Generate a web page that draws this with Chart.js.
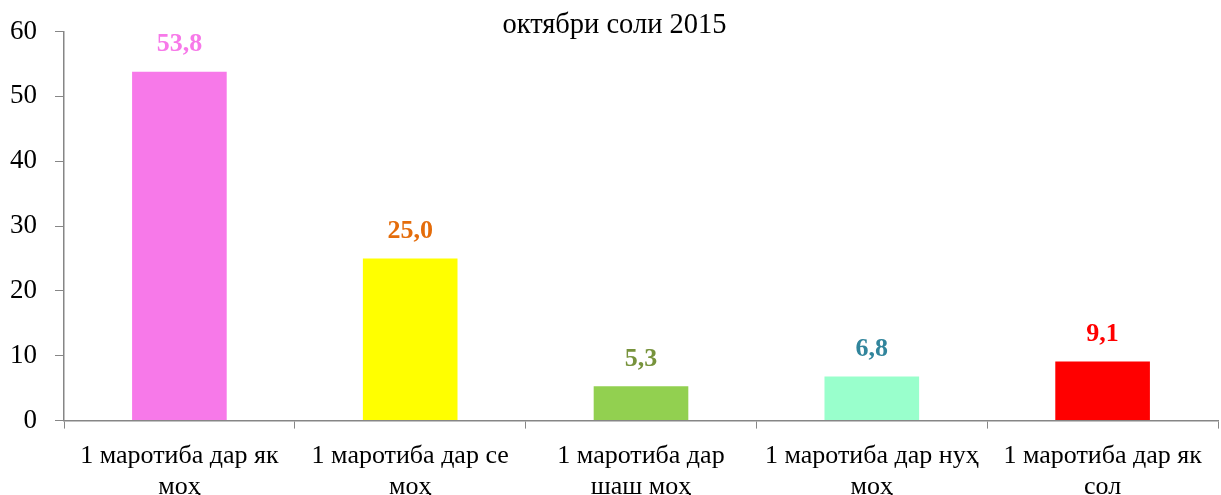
<!DOCTYPE html>
<html>
<head>
<meta charset="utf-8">
<script src="https://cdn.jsdelivr.net/npm/chart.js@4"></script>
<style>
    html, body { margin: 0; padding: 0; background: #fff; overflow: hidden; }
    #wrap { width: 1221px; height: 515px; position: relative; }
</style>
</head>
<body>
<div id="wrap"><canvas id="chart"></canvas></div>
<script>
// --- Datos ---
const titulo = 'октябри соли 2015';
const categorias = [
    ['1 маротиба дар як', 'моҳ'],
    ['1 маротиба дар се', 'моҳ'],
    ['1 маротиба дар', 'шаш моҳ'],
    ['1 маротиба дар нуҳ', 'моҳ'],
    ['1 маротиба дар як', 'сол']
];
const valores = [53.8, 25.0, 5.3, 6.8, 9.1];
const etiquetas = ['53,8', '25,0', '5,3', '6,8', '9,1'];
const coloresBarra = ['#F779E9', '#FFFF00', '#92D050', '#99FFCC', '#FF0000'];
const coloresEtiqueta = ['#F779E9', '#E46C0A', '#77933C', '#31859C', '#FF0000'];
const yTicks = [0, 10, 20, 30, 40, 50, 60];

const fuente = "'Liberation Serif', 'DejaVu Serif', serif";

// Plugin sencillo: etiquetas encima de las barras y título
const etiquetasPlugin = {
    id: 'etiquetas',
    afterDatasetsDraw(chart) {
        const ctx = chart.ctx;
        const meta = chart.getDatasetMeta(0);
        ctx.save();
        ctx.font = 'bold 26px ' + fuente;
        ctx.textAlign = 'center';
        ctx.textBaseline = 'middle';
        meta.data.forEach((bar, i) => {
            ctx.fillStyle = coloresEtiqueta[i];
            ctx.fillText(etiquetas[i], bar.x, bar.y - 27);
        });
        // título sobre el área del gráfico
        ctx.font = '28.5px ' + fuente;
        ctx.fillStyle = '#000';
        ctx.textBaseline = 'alphabetic';
        ctx.fillText(titulo, chart.width / 2 + 4, chart.chartArea.top + 1);
        ctx.restore();
    }
};

const ctx = document.getElementById('chart').getContext('2d');
new Chart(ctx, {
    type: 'bar',
    data: {
        labels: categorias,
        datasets: [{
            data: valores,
            backgroundColor: coloresBarra,
            borderWidth: 0,
            categoryPercentage: 1,
            barPercentage: 0.41
        }]
    },
    options: {
        responsive: true,
        maintainAspectRatio: false,
        animation: false,
        layout: { padding: { top: 16, left: 0, right: 3, bottom: 0 } },
        plugins: {
            legend: { display: false },
            tooltip: { enabled: false }
        },
        scales: {
            x: {
                grid: {
                    offset: true,
                    drawOnChartArea: false,
                    drawTicks: true,
                    tickLength: 8,
                    color: '#868686'
                },
                border: { color: '#868686', width: 1.5 },
                ticks: {
                    color: '#000',
                    font: { family: fuente, size: 26, lineHeight: 1.2 },
                    padding: 12,
                    maxRotation: 0,
                    autoSkip: false
                }
            },
            y: {
                min: 0,
                max: 60,
                afterBuildTicks(axis) {
                    axis.ticks = yTicks.map(v => ({ value: v }));
                },
                // ancho fijo del eje para que el área empiece donde en el original
                afterFit(axis) {
                    axis.width = 64;
                },
                grid: {
                    drawOnChartArea: false,
                    drawTicks: true,
                    tickLength: 9,
                    color: '#868686'
                },
                border: { color: '#868686', width: 1.5 },
                ticks: {
                    color: '#000',
                    font: { family: fuente, size: 27, lineHeight: 1 },
                    padding: 18
                }
            }
        }
    },
    plugins: [etiquetasPlugin]
});
</script>
</body>
</html>
